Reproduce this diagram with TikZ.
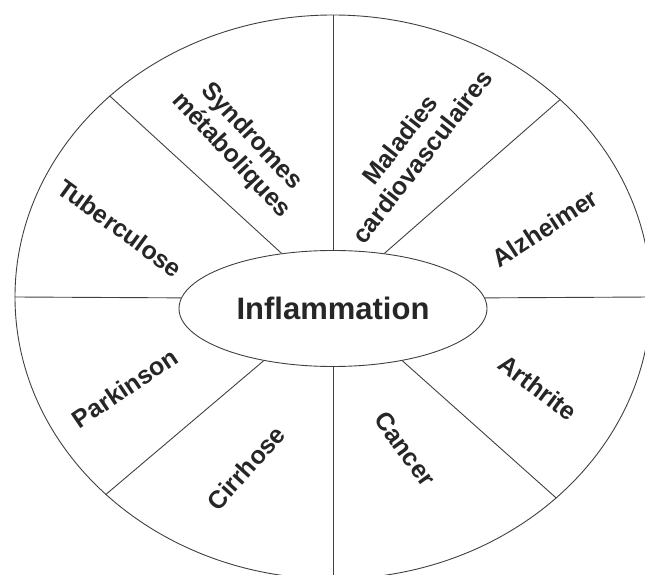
\documentclass[tikz,border=0pt]{standalone}
\usepackage{fontspec}
\setmainfont{Liberation Sans}
\usetikzlibrary{shapes.geometric}

\tikzset{
  sector/.style={draw=black!75, line width=0.9pt},
  disease/.style={font=\bfseries\fontsize{25}{28}\selectfont, align=center, text=black!85}
}

\begin{document}
\begin{tikzpicture}[x=1pt,y=1pt]
\useasboundingbox (0,0) rectangle (645,575);

% Outer ring
\node[sector, ellipse, inner sep=0pt, minimum width=636pt, minimum height=564pt] (ring) at (333,278) {};

% Centre
\node[sector, ellipse, inner sep=0pt, minimum width=308pt, minimum height=116pt,
      font=\bfseries\fontsize{31}{34}\selectfont, text=black!85] (infl) at (333,266.5) {Inflammation};

% Dividers
\draw[sector] (ring.north) -- (infl.north);
\draw[sector] (infl.south) -- (ring.south);
\draw[sector] (ring.west) -- (infl.176);
\draw[sector] (infl.4) -- (ring.east);
\draw[sector] (ring.138.5) -- (infl.133);
\draw[sector] (ring.41.5) -- (infl.47);
\draw[sector] (ring.221.5) -- (infl.217);
\draw[sector] (ring.318.5) -- (infl.323);

% Diseases
\node[disease, rotate=-36] (tub) at (120,347) {Tuberculose};
\node[disease, rotate=-47] (synd) at (241,429) {Syndromes\\métaboliques};
\node[disease, rotate=52] (mal) at (411,427) {Maladies\\cardiovasculaires};
\node[disease, rotate=33] (alz) at (545,347) {Alzheimer};
\node[disease, rotate=34] (park) at (125,187) {Parkinson};
\node[disease, rotate=48] (cirr) at (246,107) {Cirrhose};
\node[disease, rotate=-54] (canc) at (405,126) {Cancer};
\node[disease, rotate=-37] (arth) at (538,187) {Arthrite};

\end{tikzpicture}
\end{document}
